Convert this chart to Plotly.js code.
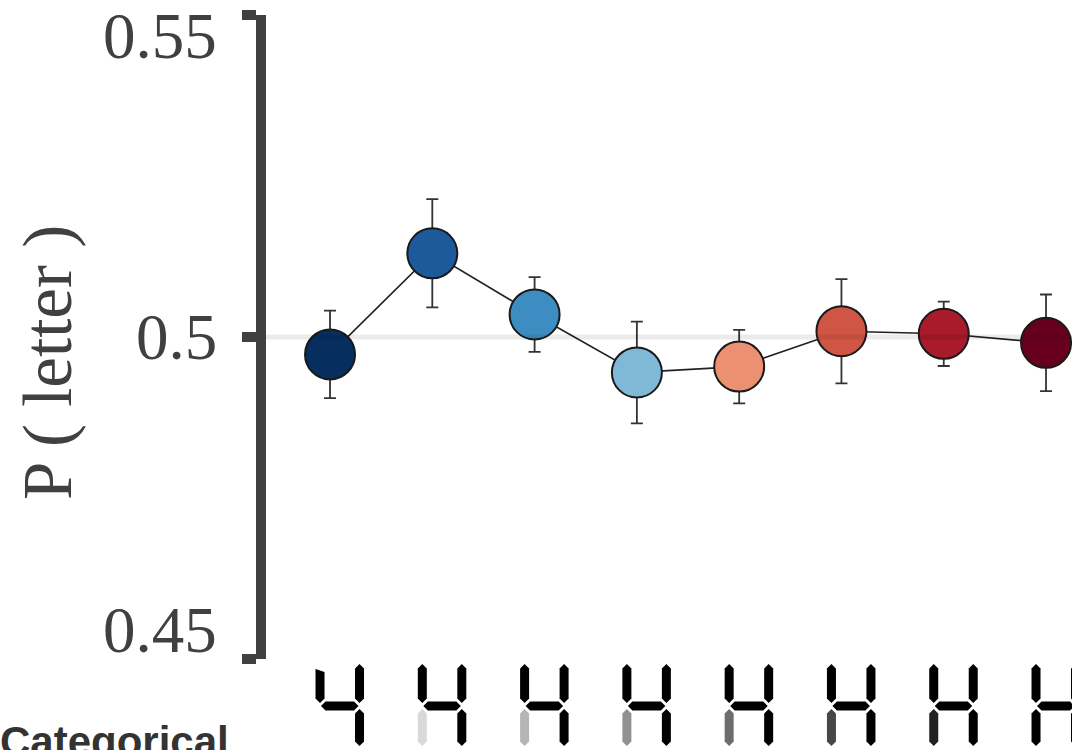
<!DOCTYPE html>
<html>
<head>
<meta charset="utf-8">
<script src="https://cdn.plot.ly/plotly-3.0.1.min.js"></script>
<style>html,body{margin:0;padding:0;background:#fff;overflow:hidden}#chart{width:1072px;height:750px}</style>
</head>
<body>
<div id="chart"></div>
<script>
// ---- data ----
const categories = ["4", "H", "H", "H", "H", "H", "H", "H"];
const pLetter = [0.4973, 0.5130, 0.5035, 0.4945, 0.4954, 0.5009, 0.5005, 0.4991];
const pError = [0.0068, 0.0084, 0.0058, 0.0079, 0.0057, 0.0081, 0.0050, 0.0075];
const markerColors = ["#062e5f", "#1d5a9b", "#3e8dc2", "#80b8d8", "#eb9171", "#d05545", "#a91a2b", "#67001f"];
// morph level of the lower-left segment of each glyph (null = segment absent)
const lowerLeftShade = [null, "#d9d9d9", "#b5b5b5", "#919191", "#6d6d6d", "#474747", "#222222", "#000000"];
const yTickVals = [0.45, 0.5, 0.55];
const yTickText = ["0.45", "0.5", "0.55"];
const yTitle = "P ( letter )";
const panelLabel = "Categorical";

const idx = categories.map((_, i) => i);
const yMin = Math.min(...yTickVals), yMax = Math.max(...yTickVals);

const trace = {
  x: idx,
  y: pLetter,
  type: "scatter",
  mode: "lines+markers",
  line: {color: "#222222", width: 1.6},
  marker: {size: 50, color: markerColors, line: {color: "#1a1a1a", width: 2}},
  error_y: {type: "data", array: pError, visible: true, color: "#333333", thickness: 1.8, width: 6},
  cliponaxis: false,
  hoverinfo: "skip",
  showlegend: false
};

// seven-segment glyph pieces (pixel units relative to category position / plot bottom)
function vSeg(cx, top, bottom, w, slantTop) {
  const h = w / 2;
  return slantTop
    ? `M${cx - h},${top - 2} L${cx + h},${top - 5} L${cx + h},${bottom + h} L${cx},${bottom} L${cx - h},${bottom + h} Z`
    : `M${cx},${top} L${cx + h},${top - h} L${cx + h},${bottom + h} L${cx},${bottom} L${cx - h},${bottom + h} L${cx - h},${top - h} Z`;
}
function hSeg(x0, x1, cy, w) {
  const h = w / 2;
  return `M${x0},${cy} L${x0 + h},${cy + h} L${x1 - h},${cy + h} L${x1},${cy} L${x1 - h},${cy - h} L${x0 + h},${cy - h} Z`;
}
function segShape(i, path, color) {
  return {type: "path", xref: "x", xsizemode: "pixel", xanchor: i,
          yref: "paper", ysizemode: "pixel", yanchor: 0,
          path: path, fillcolor: color, line: {width: 0}, layer: "above"};
}
const shapes = [];
const W = 9, LX = -10, RX = 29.5;
categories.forEach((c, i) => {
  if (c === "4") {
    shapes.push(segShape(i, vSeg(LX, -8, -44, W, true), "#000"));
  } else {
    shapes.push(segShape(i, vSeg(LX, -5, -44, W, false), "#000"));
  }
  shapes.push(segShape(i, vSeg(RX, -5, -44, W, false), "#000"));
  shapes.push(segShape(i, hSeg(LX + 1, RX - 1, -47, W), "#000"));
  shapes.push(segShape(i, vSeg(RX, -50, -87, W, false), "#000"));
  if (lowerLeftShade[i]) {
    shapes.push(segShape(i, vSeg(LX, -50, -87, W, false), lowerLeftShade[i]));
  }
});
// reference line at chance level
shapes.push({type: "line", xref: "paper", x0: 0, x1: 1, yref: "y", y0: 0.5, y1: 0.5,
             line: {color: "rgba(0,0,0,0.08)", width: 5}, layer: "above"});

// y tick labels: end labels pulled inward (as in the reference)
const tickLabelAnns = yTickVals.map((v, k) => ({
  text: yTickText[k], xref: "paper", yref: "y", x: -0.058, y: v,
  xanchor: "right", yanchor: "middle", showarrow: false,
  yshift: v === yMax ? -21 : (v === yMin ? 29 : 0),
  font: {family: "Liberation Serif, serif", size: 65, color: "#404040"}
}));

const layout = {
  width: 1072, height: 750,
  margin: {l: 266, r: 0, t: 15, b: 91, pad: 0},
  paper_bgcolor: "#ffffff", plot_bgcolor: "#ffffff",
  font: {family: "Liberation Serif, serif", color: "#404040"},
  xaxis: {range: [-0.626, 7.254], showticklabels: false, showgrid: false, zeroline: false,
          showline: false, ticks: "", tickvals: idx, ticktext: categories, fixedrange: true},
  yaxis: {range: [yMin, yMax], tickvals: yTickVals, ticktext: yTickText, showticklabels: false,
          showgrid: false, zeroline: false, showline: true, linecolor: "#404040", linewidth: 10,
          ticks: "outside", ticklen: 14, tickwidth: 10, tickcolor: "#404040"},
  shapes: shapes,
  annotations: tickLabelAnns.concat([
    {text: yTitle, xref: "paper", yref: "paper", x: -0.2705, y: 0.461, textangle: -90,
     xanchor: "center", yanchor: "middle", showarrow: false,
     font: {family: "Liberation Serif, serif", size: 69, color: "#404040"}},
    {text: "<b>" + panelLabel + "</b>", xref: "paper", yref: "paper", x: -0.333, y: -0.089,
     xanchor: "left", yanchor: "top", showarrow: false,
     font: {family: "Liberation Sans, Arial, sans-serif", size: 42, color: "#333333"}}])
};

Plotly.newPlot("chart", [trace], layout, {staticPlot: true, displayModeBar: false});
</script>
</body>
</html>
